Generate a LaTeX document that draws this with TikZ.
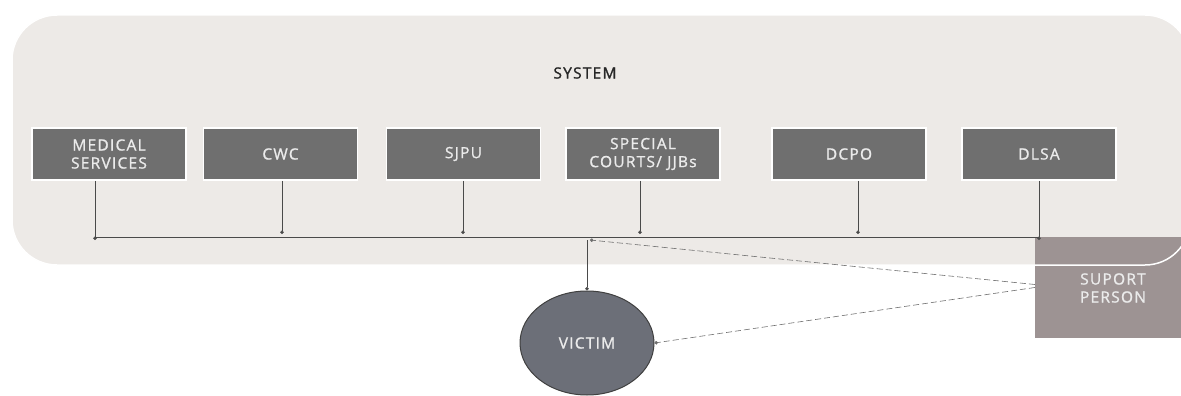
\documentclass[tikz,border=0pt]{standalone}
\usepackage{fontspec}
\setmainfont{Open Sans}
\newfontfamily\lblfont[LetterSpace=8,FakeBold=1.2]{Open Sans}
\usetikzlibrary{arrows.meta,shapes.geometric}
\definecolor{sysbg}{HTML}{EDEAE7}
\definecolor{boxfill}{HTML}{6F6F6F}
\definecolor{linec}{HTML}{4A4A4A}
\definecolor{supfill}{HTML}{9D9393}
\definecolor{vicfill}{HTML}{6C6F78}
\tikzset{
  lbl/.style={font=\lblfont\fontsize{15.5}{18}\selectfont},
  unit/.style={lbl, draw=white, line width=1.5pt, fill=boxfill, minimum width=154pt, minimum height=52pt,
    text=white!92!black, align=center, inner sep=0pt},
  conn/.style={draw=linec, line width=0.6pt, -{Circle[length=3.5pt]}},
  plain/.style={draw=linec, line width=0.6pt},
  dconn/.style={draw=linec!80, line width=0.6pt, dash pattern=on 6pt off 3pt, -{Circle[length=3.5pt]}},
}
\begin{document}
\begin{tikzpicture}[x=1pt,y=-1pt]
\useasboundingbox (0,0) rectangle (1181,396);
\fill[sysbg] (12,15) [rounded corners=45pt] rectangle (1190,265);
\node[fill=supfill, minimum width=152pt, minimum height=101pt, inner sep=0pt] (sup) at (1111,287.5) {};
\draw[white, line width=1.5pt, rounded corners=45pt] (12,15) rectangle (1190,265);
\node[lbl, text=white!92!black, align=center] (suptext) at (1113,288) {SUPORT\\PERSON};
\node[lbl, text=black!85] (sys) at (585,73) {SYSTEM};
\node[unit] (med) at (109,154) {MEDICAL\\SERVICES};
\node[unit] (cwc) at (280.5,154) {CWC};
\node[unit] (sjpu) at (463.5,154) {SJPU};
\node[unit] (sc) at (643,154) {SPECIAL\\COURTS/ JJBs};
\node[unit] (dcpo) at (849,154) {DCPO};
\node[unit] (dlsa) at (1039,154) {DLSA};
\node[lbl, ellipse, draw=black!75, line width=1pt, fill=vicfill, minimum width=134pt, minimum height=104pt,
  text=white!92!black] (victim) at (587,343) {VICTIM};
\coordinate (busL) at (95,237);
\coordinate (busR) at (1039,237);
\coordinate (hub) at (590,240);
\draw[plain] (busL) -- (busR);
\draw[conn] (med.south -| busL) -- ([yshift=-3pt]busL);
\draw[conn] (cwc.south -| 282,0) -- (282,234);
\draw[conn] (sjpu.south -| 463,0) -- (463,234);
\draw[conn] (sc.south -| 640,0) -- (640,234);
\draw[conn] (dcpo.south -| 858,0) -- (858,234);
\draw[conn] (dlsa.south -| busR) -- ([yshift=-3pt]busR);
\draw[conn] (587,240) -- (victim.north);
\draw[dconn] (sup.west) ++(0,-3) -- (hub);
\draw[dconn] (sup.west) -- (victim.east);
\end{tikzpicture}
\end{document}
